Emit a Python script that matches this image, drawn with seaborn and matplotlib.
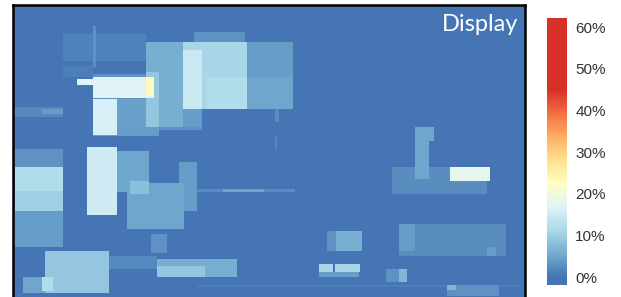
"""Gaze share heatmap over a 1920x1200 display, recreated with seaborn"""
import numpy as np
import matplotlib
matplotlib.use("Agg")
import matplotlib.pyplot as plt
from matplotlib.colors import LinearSegmentedColormap
import seaborn as sns

SCREEN_W, SCREEN_H = 1920, 1200
CELL = 6

# screen regions (x0, y0, x1, y1, share of gaze in %)
top_left = [
    (188, 113, 503, 214, 1.5), (300, 83, 315, 236, 3), (188, 233, 300, 270, 1),
    (300, 263, 713, 469, 3), (503, 139, 638, 458, 6), (503, 255, 551, 458, 9),
    (300, 274, 533, 349, 17), (240, 281, 300, 300, 17), (503, 274, 533, 345, 23),
    (300, 356, 390, 488, 16), (390, 356, 551, 458, 4.5), (0, 386, 188, 420, 2),
    (113, 394, 188, 413, 4), (300, 458, 551, 495, 4),
]
top_centre = [
    (638, 143, 878, 394, 11), (638, 169, 713, 394, 14.5), (878, 143, 1050, 394, 4),
    (878, 274, 1050, 394, 5), (728, 274, 878, 394, 12), (683, 105, 870, 143, 3),
    (626, 394, 713, 458, 4), (986, 386, 998, 443, 2.5), (986, 495, 994, 544, 2),
]
bottom_left = [
    (0, 544, 188, 608, 3), (8, 611, 188, 776, 10), (8, 611, 188, 701, 12),
    (0, 776, 188, 908, 4), (281, 536, 390, 788, 15), (390, 551, 514, 705, 5),
    (439, 664, 514, 713, 8), (428, 668, 645, 844, 5), (626, 593, 690, 776, 4),
    (645, 690, 1058, 705, 2.5), (788, 690, 945, 705, 5), (120, 926, 364, 1080, 9),
    (38, 1024, 120, 1080, 5), (113, 1024, 150, 1076, 12), (364, 945, 540, 994, 2),
    (540, 956, 840, 1024, 6), (540, 983, 720, 1020, 9), (521, 863, 581, 930, 3),
    (690, 1050, 1901, 1058, 1),
]
right_side = [
    (1178, 851, 1215, 926, 3), (1215, 851, 1309, 926, 6), (1151, 975, 1200, 1005, 11),
    (1211, 975, 1305, 1005, 11), (1151, 1005, 1301, 1024, 4), (1511, 458, 1560, 656, 5),
    (1560, 458, 1579, 514, 5), (1425, 611, 1781, 713, 2.5), (1639, 611, 1789, 660, 18),
    (1451, 825, 1853, 945, 2.5), (1451, 825, 1508, 926, 4), (1781, 908, 1815, 945, 4),
    (1403, 994, 1481, 1043, 3), (1451, 994, 1481, 1043, 7), (1628, 1050, 1826, 1095, 3),
    (1628, 1050, 1665, 1069, 7),
]

cbar_ticks = [0, 10, 20, 30, 40, 50, 60]
cbar_labels = ["0%", "10%", "20%", "30%", "40%", "50%", "60%"]

grid = np.zeros((SCREEN_H // CELL, SCREEN_W // CELL))
for group in [top_left, top_centre, bottom_left, right_side]:
    for x0, y0, x1, y1, share in group:
        block = grid[y0 // CELL:y1 // CELL, x0 // CELL:x1 // CELL]
        np.maximum(block, share, out=block)

# RdYlBu-like ramp from 0% to 45%, flat red above
VMIN, VMAX = -1.9, 62.2
stops = [VMIN, 0, 5.625, 11.25, 16.875, 22.5, 28.125, 33.75, 39.375, 45, VMAX]
hexes = ["#4575b4", "#4575b4", "#74add1", "#abd9e9", "#e0f3f8", "#ffffbf",
         "#fee090", "#fdae61", "#f46d43", "#d73027", "#d73027"]
cmap = LinearSegmentedColormap.from_list(
    "gaze", [((s - VMIN) / (VMAX - VMIN), c) for s, c in zip(stops, hexes)])

fig = plt.figure(figsize=(6.21, 2.97), dpi=100)
ax = fig.add_axes([13 / 621, -28 / 297, 512 / 621, 320 / 297])
cax = fig.add_axes([547 / 621, 12 / 297, 20 / 621, 267 / 297])

sns.heatmap(grid, ax=ax, cbar_ax=cax, cmap=cmap, vmin=VMIN, vmax=VMAX,
            xticklabels=False, yticklabels=False, rasterized=True)
for spine in ax.spines.values():
    spine.set_visible(True)
    spine.set_color("black")
    spine.set_linewidth(1.8)

ax.text(0.986, 0.919, "Display", transform=ax.transAxes, ha="right",
        va="baseline", color="white", fontsize=17, family="Lato")

cbar = ax.collections[0].colorbar
cbar.set_ticks(cbar_ticks)
cbar.set_ticklabels(cbar_labels)
cbar.outline.set_visible(False)
cax.tick_params(length=0, pad=6, labelsize=11, labelcolor="#333333")
for lab in cax.get_yticklabels():
    lab.set_family("Liberation Sans")

fig.savefig("out.png", dpi=100)
